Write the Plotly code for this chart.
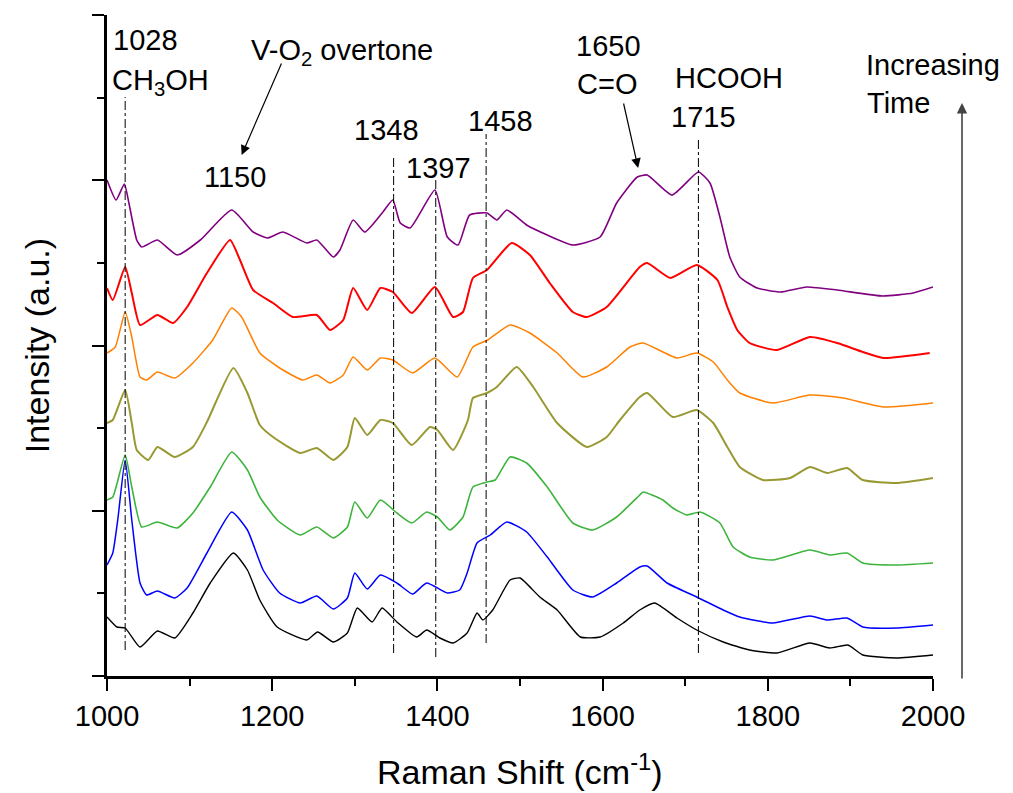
import plotly.graph_objects as go

# ---------------- data ----------------
# Intensity in arbitrary units (0 = bottom of axis, 661 = top of axis)
wn_black = [1000,1012,1022,1040,1061,1082,1104,1125,1153,1170,1185,1206,1242,1255,1274,1291,1303,1321,1333,1351,1375,1387,1403,1419,1436,1448,1455,1467,1488,1500,1524,1545,1573,1597,1625,1645,1663,1690,1714,1746,1778,1811,1851,1875,1897,1915,1956,2000]
int_black = [59,49,48,29,45,38,63,93,123,106,76,49,36,44,34,43,68,54,68,54,39,46,38,33,43,63,56,66,96,98,79,66,39,39,53,66,73,58,46,34,26,23,33,28,31,21,18,21]

wn_blue = [1000,1007,1013,1022,1030,1040,1048,1061,1082,1097,1121,1151,1170,1189,1209,1234,1254,1274,1291,1300,1315,1331,1351,1370,1387,1412,1427,1436,1448,1464,1484,1508,1533,1564,1588,1617,1645,1654,1678,1714,1746,1766,1806,1851,1872,1896,1915,1956,2000]
int_blue = [111,123,156,216,156,93,81,85,78,88,123,164,146,106,83,73,80,67,78,103,87,101,93,82,93,83,86,103,133,141,154,144,119,86,79,93,109,110,93,79,66,59,53,60,56,58,49,48,51]

wn_green = [1000,1007,1022,1030,1042,1061,1085,1104,1125,1151,1170,1185,1206,1234,1254,1274,1291,1300,1315,1331,1351,1369,1387,1400,1415,1431,1443,1460,1470,1488,1508,1533,1564,1588,1617,1645,1649,1673,1685,1702,1718,1742,1758,1778,1806,1851,1875,1896,1915,1956,2000]
int_green = [176,179,221,189,149,154,148,163,189,224,206,179,156,141,149,138,149,174,158,176,163,153,164,159,146,159,189,194,196,219,213,189,153,146,159,181,184,176,168,161,164,153,129,119,116,126,121,123,113,111,113]

wn_olive = [1000,1007,1022,1030,1036,1050,1061,1082,1104,1121,1153,1170,1185,1201,1234,1254,1274,1291,1300,1315,1331,1346,1369,1391,1400,1419,1437,1443,1460,1472,1496,1516,1545,1581,1605,1621,1645,1654,1685,1714,1734,1751,1766,1794,1827,1851,1872,1896,1915,1956,2000]
int_olive = [253,256,286,253,226,216,229,219,229,254,308,283,251,239,223,228,216,229,258,241,256,253,231,249,246,226,256,278,283,289,309,289,253,229,239,256,279,283,259,266,253,229,209,196,198,209,203,208,196,193,198]

wn_orange = [1000,1010,1022,1030,1040,1048,1061,1082,1104,1128,1151,1163,1185,1209,1237,1254,1270,1286,1298,1315,1331,1346,1370,1397,1424,1443,1461,1488,1512,1545,1576,1605,1633,1649,1690,1714,1734,1751,1766,1806,1851,1891,1940,2000]
int_orange = [323,329,364,339,299,296,304,298,313,336,368,359,323,308,296,301,293,301,319,306,318,316,303,318,299,329,336,351,343,323,299,309,329,333,318,323,314,296,283,273,281,278,269,273]

wn_red = [1000,1007,1022,1030,1040,1061,1080,1097,1121,1149,1161,1177,1201,1225,1254,1270,1286,1298,1315,1331,1346,1369,1397,1419,1431,1443,1460,1490,1512,1536,1564,1581,1605,1645,1654,1682,1714,1739,1751,1763,1778,1811,1851,1884,1915,1940,1996]
int_red = [388,376,409,383,351,361,353,369,403,436,416,386,373,359,361,346,356,388,366,388,384,363,389,359,364,398,406,433,421,393,364,359,369,409,413,398,411,396,369,346,333,326,339,333,324,318,323]

wn_purple = [1000,1011,1021,1027,1036,1042,1061,1085,1113,1151,1177,1194,1213,1242,1254,1274,1282,1298,1312,1334,1346,1355,1367,1397,1412,1425,1439,1460,1472,1484,1508,1533,1564,1597,1617,1642,1654,1684,1716,1730,1742,1754,1766,1787,1815,1847,1884,1939,1976,2000]
int_purple = [496,476,492,471,436,429,436,421,436,466,444,438,444,433,436,419,426,456,444,464,476,453,448,486,439,431,461,463,456,466,451,441,431,439,473,499,501,481,504,493,459,419,399,388,384,389,386,380,383,389]

series = [
    ("black", wn_black, int_black, "#000000", 1.4),
    ("blue", wn_blue, int_blue, "#0000FF", 1.5),
    ("green", wn_green, int_green, "#3DB43D", 1.6),
    ("olive", wn_olive, int_olive, "#999933", 2.0),
    ("orange", wn_orange, int_orange, "#FF8000", 1.5),
    ("red", wn_red, int_red, "#FF0000", 2.0),
    ("purple", wn_purple, int_purple, "#800080", 1.6),
]

# peak marker lines: position and vertical extent
marker_wn = [1022, 1347, 1398, 1459, 1716]
marker_top = [579, 519, 496, 542, 537]
marker_bottom = [26, 23, 19, 33, 23]

x_ticks = [1000, 1200, 1400, 1600, 1800, 2000]
y_max = 661

FONT = "Liberation Sans, Arial, sans-serif"

fig = go.Figure()
for name, xs, ys, col, w in series:
    fig.add_trace(go.Scatter(x=xs, y=ys, mode="lines", name=name,
                             line=dict(color=col, width=w, shape="spline", smoothing=0.5),
                             showlegend=False, hoverinfo="skip"))

shapes = []
for xw, yt, yb in zip(marker_wn, marker_top, marker_bottom):
    shapes.append(dict(type="line", xref="x", yref="y", x0=xw, x1=xw, y0=yb, y1=yt,
                       line=dict(color="black", width=1, dash="dashdot")))

def txt(x, y, s, anchor="center"):
    return dict(x=x, y=y, xref="x", yref="y", text=s, showarrow=False,
                xanchor=anchor, yanchor="middle", font=dict(family=FONT, size=29, color="black"))

annotations = [
    txt(1046, 636, "1028"),
    txt(1065, 594, "CH<sub>3</sub>OH"),
    txt(1285, 624, "V-O<sub>2</sub> overtone"),
    txt(1155, 499, "1150"),
    txt(1338, 546, "1348"),
    txt(1401, 508, "1397"),
    txt(1476, 555, "1458"),
    txt(1607, 630, "1650"),
    txt(1605, 592, "C=O"),
    txt(1753, 598, "HCOOH"),
    txt(1722, 559, "1715"),
    txt(1916, 611, "Increasing", "left"),
    txt(1918, 573, "Time", "left"),
    # arrows
    dict(x=1163, y=521, ax=1212, ay=614, xref="x", yref="y", axref="x", ayref="y",
         text="", showarrow=True, arrowhead=2, arrowsize=1.6, arrowwidth=1.2, arrowcolor="black"),
    dict(x=1643, y=508, ax=1625, ay=574, xref="x", yref="y", axref="x", ayref="y",
         text="", showarrow=True, arrowhead=2, arrowsize=1.6, arrowwidth=1.2, arrowcolor="black"),
    # "increasing time" arrow, right of the plot area
    dict(x=(962 - 107) / 826, y=(676 - 103) / 661, xref="paper", yref="paper",
         ax=0, ay=577, text="", showarrow=True, arrowhead=2, arrowsize=1.3,
         arrowwidth=1.6, arrowcolor="#444444"),
    # axis titles
    dict(x=0.5, y=-0.142, xref="paper", yref="paper", text="Raman Shift (cm<sup>-1</sup>)",
         showarrow=False, xanchor="center", yanchor="middle", font=dict(family=FONT, size=34, color="black")),
    dict(x=-0.085, y=0.5, xref="paper", yref="paper", text="Intensity (a.u.)", textangle=-90,
         showarrow=False, xanchor="center", yanchor="middle", font=dict(family=FONT, size=34, color="black")),
]

fig.update_layout(
    width=1013, height=793,
    margin=dict(l=107, r=80, t=15, b=117),
    paper_bgcolor="white", plot_bgcolor="white",
    shapes=shapes, annotations=annotations,
    xaxis=dict(range=[1000, 2000], tickvals=x_ticks, ticks="outside", ticklen=12, tickwidth=2,
               tickcolor="black", showline=True, linewidth=2.5, linecolor="black", mirror=False,
               showgrid=False, zeroline=False,
               tickfont=dict(family=FONT, size=29, color="black"),
               minor=dict(dtick=100, tick0=1000, ticks="outside", ticklen=7, tickwidth=2, tickcolor="black", showgrid=False)),
    yaxis=dict(range=[0, y_max], tickvals=[0, y_max/4, y_max/2, 3*y_max/4, y_max], ticks="outside",
               ticklen=12, tickwidth=2, tickcolor="black", showticklabels=False,
               showline=True, linewidth=2.5, linecolor="black", showgrid=False, zeroline=False,
               minor=dict(dtick=y_max/8, tick0=0, ticks="outside", ticklen=7, tickwidth=2, tickcolor="black", showgrid=False)),
)

fig.write_html("out.html")
